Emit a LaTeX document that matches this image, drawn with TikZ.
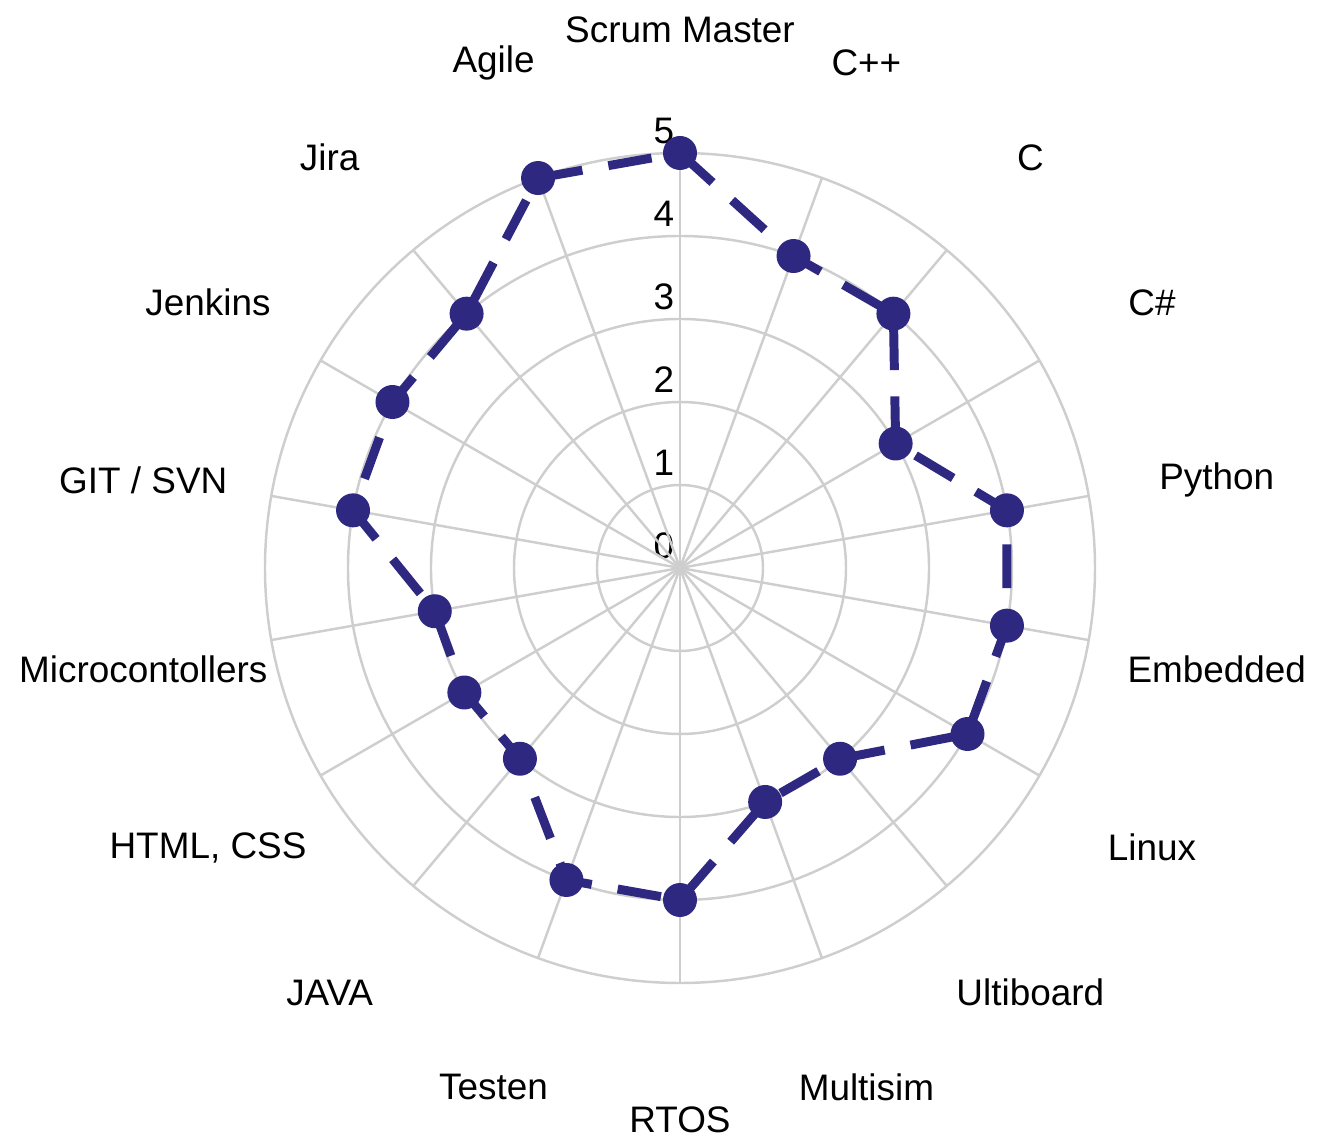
\documentclass[tikz,border=0pt]{standalone}
\usepackage{fontspec}
\setmainfont{Liberation Sans}
\definecolor{skill}{RGB}{46,40,128}
\definecolor{ringgray}{RGB}{206,206,206}

\begin{document}
\begin{tikzpicture}[x=0.02cm,y=0.02cm]
        \tikzstyle{every node}+=[inner sep=0pt, font=\fontsize{21}{25}\selectfont]
        \tikzstyle{gridline}=[ringgray, line width=1.4pt]
        \tikzstyle{dot}=[circle, fill=skill, minimum size=0.68cm]
        \useasboundingbox (-680,-570) rectangle (644,568);
        % scale numbers
        \foreach \r in {0,...,5}
          \node (s\r) at (-16,\r*83+22) {\r};
        % rings and spokes
        \foreach \r in {1,...,5}
          \draw [gridline] (0,0) circle (\r*83);
        \foreach \i in {0,...,17}
          \draw [gridline] (0,0) -- (90-\i*20:415);
        % axis labels
        \foreach \i/\name in {0/Scrum Master, 1/C++, 2/C, 3/C\#, 4/Python,
            5/Embedded, 6/Linux, 7/Ultiboard, 8/Multisim, 9/RTOS, 10/Testen,
            11/JAVA, 12/{HTML, CSS}, 13/Microcontollers, 14/{GIT / SVN},
            15/Jenkins, 16/Jira, 17/Agile}
          \node [yshift=-0.14cm] (l\i) at (90-\i*20:545) {\name};
        % values
        \foreach \i/\v in {0/5, 1/4, 2/4, 3/3, 4/4, 5/4, 6/4, 7/3, 8/3,
            9/4, 10/4, 11/3, 12/3, 13/3, 14/4, 15/4, 16/4, 17/5}
          \coordinate (v\i) at (90-\i*20:\v*83);
        \draw [skill, line width=5.1pt, dash pattern=on 25pt off 15pt]
          (v0) \foreach \i in {1,...,17} { -- (v\i) } -- cycle;
        \foreach \i in {0,...,17}
          \node [dot] (d\i) at (v\i) {};
\end{tikzpicture}
\end{document}
